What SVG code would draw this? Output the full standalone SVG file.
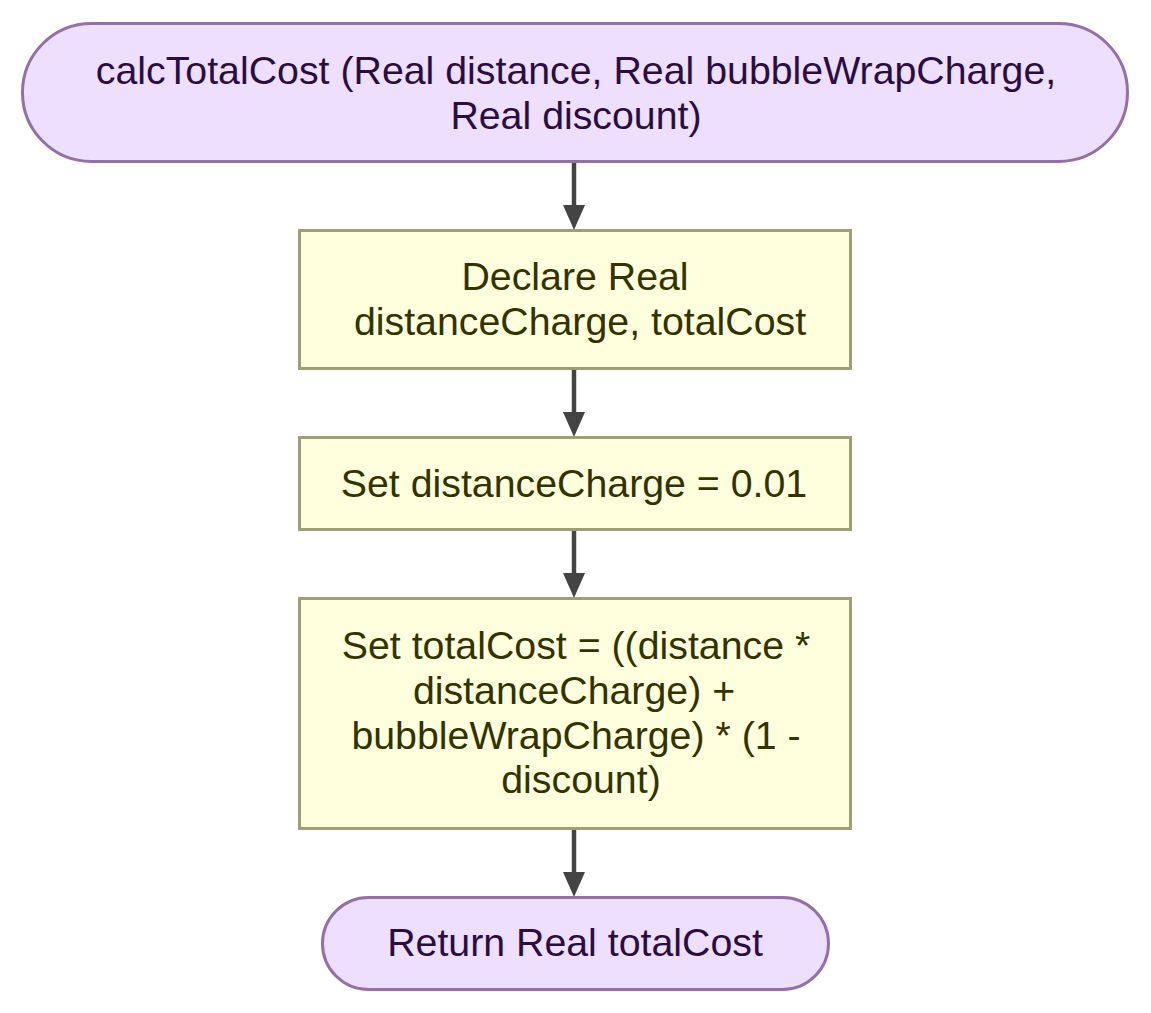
<svg xmlns="http://www.w3.org/2000/svg" width="1151" height="1013" viewBox="0 0 1151 1013">
<style>
.term{fill:#EEDFFF;stroke:#9370A6;stroke-width:3}
.proc{fill:#FFFFDD;stroke:#9E9E78;stroke-width:3}
.t{font-family:"Liberation Sans",Arial,sans-serif;font-size:39.3px;text-anchor:middle}
.tt{fill:#2A0E40}
.pt{fill:#333300}
.edge{stroke:#444444;stroke-width:4.5;fill:none}
.head{fill:#444444}
</style>
<rect width="1151" height="1013" fill="#FFFFFF"/>
<g id="connectors">
<line class="edge" x1="574" y1="162" x2="574" y2="206"/>
<path class="head" d="M563,205 L585,205 L574,230 Z"/>
<line class="edge" x1="574" y1="369" x2="574" y2="413"/>
<path class="head" d="M563,412 L585,412 L574,437 Z"/>
<line class="edge" x1="574" y1="530" x2="574" y2="574"/>
<path class="head" d="M563,573 L585,573 L574,598 Z"/>
<line class="edge" x1="574" y1="829" x2="574" y2="873"/>
<path class="head" d="M563,872 L585,872 L574,897 Z"/>
</g>
<g id="start">
<rect class="term" x="22.5" y="23.5" width="1105" height="138" rx="69" ry="69"/>
<text class="t tt" x="576" y="84">calcTotalCost (Real distance, Real bubbleWrapCharge,</text>
<text class="t tt" x="576" y="129">Real discount)</text>
</g>
<g id="declare">
<rect class="proc" x="299.5" y="230.5" width="551" height="138"/>
<text class="t pt" x="575" y="290">Declare Real</text>
<text class="t pt" x="580" y="335">distanceCharge, totalCost</text>
</g>
<g id="setDistance">
<rect class="proc" x="299.5" y="437.5" width="551" height="92"/>
<text class="t pt" x="574" y="497">Set distanceCharge = 0.01</text>
</g>
<g id="setTotal">
<rect class="proc" x="299.5" y="598.5" width="551" height="230"/>
<text class="t pt" x="576" y="659">Set totalCost = ((distance *</text>
<text class="t pt" x="574" y="704">distanceCharge) +</text>
<text class="t pt" x="576" y="749">bubbleWrapCharge) * (1 -</text>
<text class="t pt" x="581" y="793">discount)</text>
</g>
<g id="return">
<rect class="term" x="322.5" y="897.5" width="506" height="92" rx="46" ry="46"/>
<text class="t tt" x="575" y="956">Return Real totalCost</text>
</g>
</svg>
